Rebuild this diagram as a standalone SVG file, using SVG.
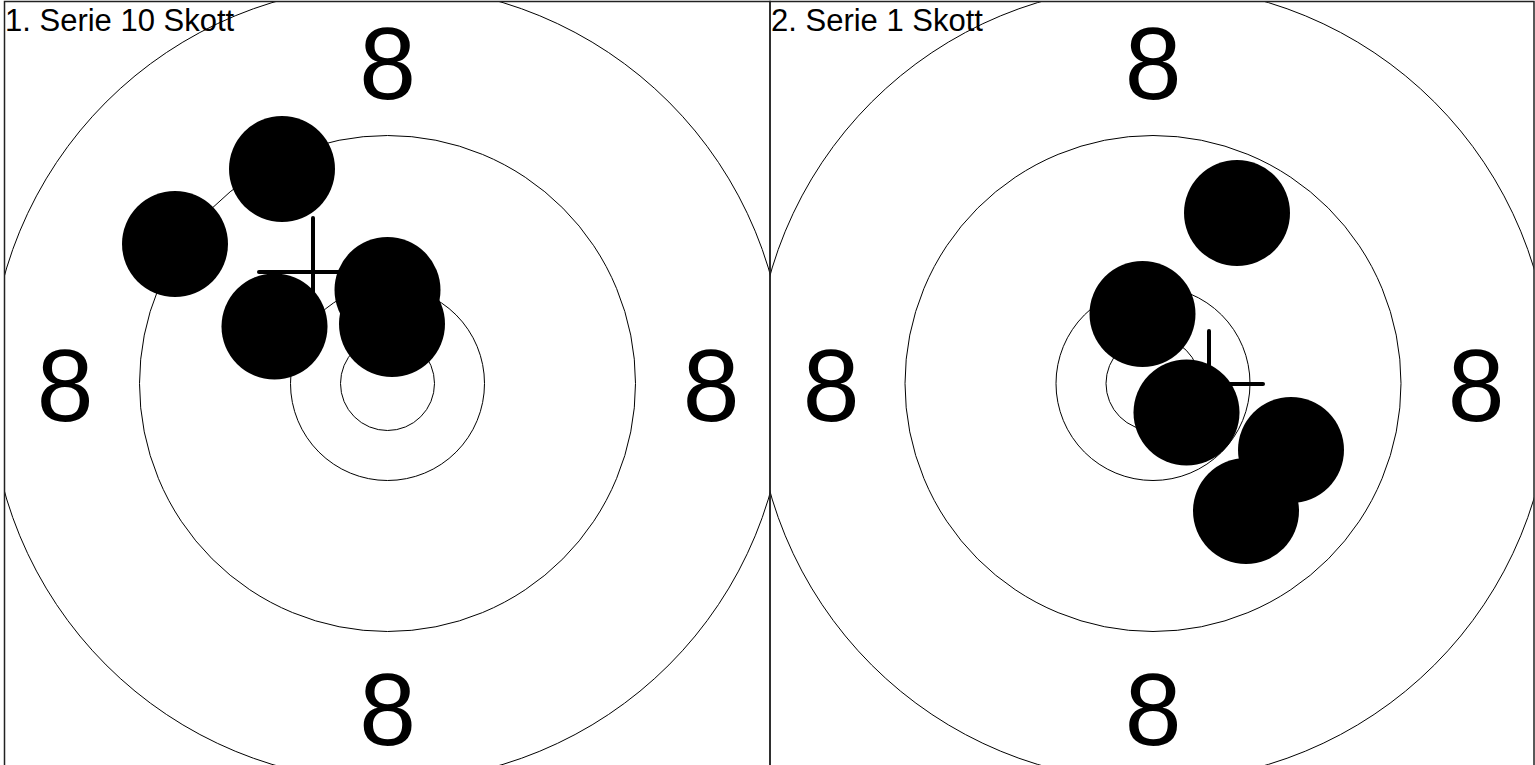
<svg xmlns="http://www.w3.org/2000/svg" width="1535" height="765" viewBox="0 0 1535 765">
<style>
.ring{fill:none;stroke:#000;stroke-width:1}
.frame{fill:none;stroke:#222;stroke-width:1.5}
.shot{fill:#000}
.cross{stroke:#000;stroke-width:4;stroke-linecap:round;fill:none}
.num{font-family:"Liberation Sans",Arial,sans-serif;font-size:102px;fill:#000;text-anchor:middle}
.lbl{font-family:"Liberation Sans",Arial,sans-serif;font-size:31px;fill:#000}
</style>
<defs>
<clipPath id="clipL"><rect x="4.5" y="1.5" width="765.5" height="766"/></clipPath>
<clipPath id="clipR"><rect x="770" y="1.5" width="764" height="766"/></clipPath>
</defs>
<rect width="1535" height="765" fill="#fff"/>
<g id="panel1">
<g clip-path="url(#clipL)">
<circle class="ring" cx="387.5" cy="383.5" r="398"/>
<circle class="ring" cx="387.5" cy="383.5" r="248"/>
<circle class="ring" cx="387.5" cy="383.5" r="97"/>
<circle class="ring" cx="387.5" cy="383.5" r="47"/>
</g>
<text class="num" x="387.5" y="99">8</text>
<text class="num" x="387.5" y="745">8</text>
<text class="num" x="65" y="421">8</text>
<text class="num" x="711" y="421">8</text>
<g id="cross1"><line class="cross" x1="313" y1="218" x2="313" y2="326"/><line class="cross" x1="259" y1="272" x2="367" y2="272"/></g>
<g id="shots1">
<circle class="shot" cx="282" cy="169" r="53"/>
<circle class="shot" cx="175" cy="244" r="53"/>
<circle class="shot" cx="274.5" cy="326.5" r="53"/>
<circle class="shot" cx="387.5" cy="290" r="53"/>
<circle class="shot" cx="392" cy="324" r="53"/>
</g>
<rect class="frame" x="4.5" y="1.5" width="765.5" height="766"/>
<text class="lbl" x="5" y="31">1. Serie 10 Skott</text>
</g>
<g id="panel2">
<g clip-path="url(#clipR)">
<circle class="ring" cx="1153" cy="383.5" r="398"/>
<circle class="ring" cx="1153" cy="383.5" r="248"/>
<circle class="ring" cx="1153" cy="383.5" r="97"/>
<circle class="ring" cx="1153" cy="383.5" r="47"/>
</g>
<text class="num" x="1153" y="99">8</text>
<text class="num" x="1153" y="745">8</text>
<text class="num" x="831" y="421">8</text>
<text class="num" x="1476" y="421">8</text>
<g id="cross2"><line class="cross" x1="1209" y1="331" x2="1209" y2="437"/><line class="cross" x1="1155" y1="384" x2="1263" y2="384"/></g>
<g id="shots2">
<circle class="shot" cx="1237" cy="213" r="53"/>
<circle class="shot" cx="1142.5" cy="314" r="53"/>
<circle class="shot" cx="1186.5" cy="412.5" r="53"/>
<circle class="shot" cx="1291" cy="450" r="53"/>
<circle class="shot" cx="1246" cy="511" r="53"/>
</g>
<rect class="frame" x="770" y="1.5" width="764" height="766"/>
<text class="lbl" x="771" y="31">2. Serie 1 Skott</text>
</g>
</svg>
